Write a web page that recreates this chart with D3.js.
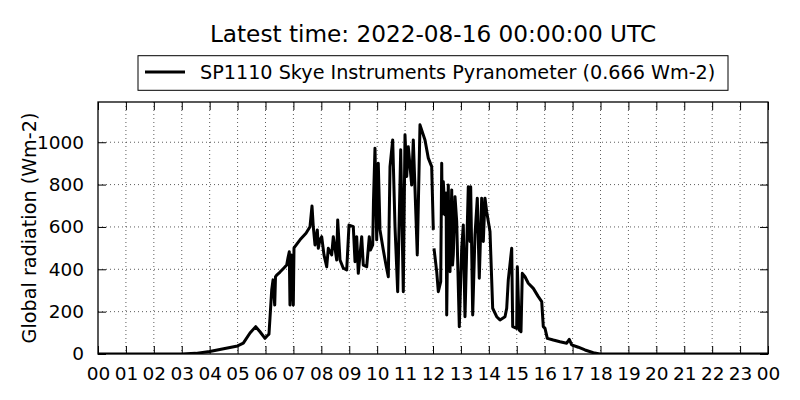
<!DOCTYPE html>
<html>
<head>
<meta charset="utf-8">
<script src="https://cdn.jsdelivr.net/npm/d3@7"></script>
<style>
  html, body { margin: 0; padding: 0; background: #fff; }
  svg { display: block; font-family: "DejaVu Sans", sans-serif; }
</style>
</head>
<body>
<svg id="chart" width="800" height="400"></svg>
<script>
// ---- data (hour of day, global radiation Wm-2) ----
const titleText = "Latest time: 2022-08-16 00:00:00 UTC";
const seriesName = "SP1110 Skye Instruments Pyranometer (0.666 Wm-2)";
const yLabel = "Global radiation (Wm-2)";
const xTickValues = d3.range(0, 25);
const xTickLabels = xTickValues.map(h => String(h % 24).padStart(2, "0"));
const yTickValues = [0, 200, 400, 600, 800, 1000];
const yMax = 1190;

const hours = [
  0, 1, 2, 3.0, 3.5, 4.0, 4.5, 5.0, 5.205, 5.445, 5.649, 5.803, 5.982, 6.054, 6.125,
  6.222, 6.27, 6.33, 6.358, 6.401, 6.52, 6.66, 6.759, 6.806, 6.852, 6.877, 6.931, 6.996,
  7.021, 7.128, 7.236, 7.451, 7.594, 7.666, 7.712, 7.773, 7.81, 7.856, 7.892, 7.95,
  8.013, 8.095, 8.192, 8.25, 8.371, 8.429, 8.55, 8.586, 8.669, 8.787, 8.909, 8.991,
  9.145, 9.206, 9.267, 9.324, 9.446, 9.503, 9.625, 9.718, 9.761, 9.84, 9.869, 9.922,
  9.983, 10.04, 10.101, 10.22, 10.316, 10.399, 10.46, 10.556, 10.639, 10.735, 10.843,
  10.936, 10.997, 11.058, 11.115, 11.237, 11.294, 11.437, 11.534, 11.713, 11.832,
  11.953, 12.011, 12.02, 12.036, 12.133, 12.19, 12.276, 12.312, 12.33, 12.369, 12.43,
  12.47, 12.491, 12.548, 12.58, 12.609, 12.67, 12.7, 12.727, 12.788, 12.849, 12.942,
  13.028, 13.085, 13.146, 13.264, 13.325, 13.35, 13.422, 13.504, 13.587, 13.658,
  13.744, 13.802, 13.863, 13.923, 14.042, 14.138, 14.281, 14.4, 14.579, 14.64, 14.697,
  14.819, 14.855, 14.998, 15.02, 15.091, 15.152, 15.199, 15.295, 15.414, 15.593,
  15.772, 15.894, 15.951, 16.012, 16.095, 16.309, 16.549, 16.789, 16.882, 16.968,
  17.205, 17.445, 17.742, 17.98, 19, 20, 21, 22, 23, 24
];
const radiation = [
  0, 0, 0, 0, 3, 12, 25, 38, 51, 99, 129, 105, 74, 85, 94,
  302, 350, 231, 364, 373, 387, 406, 420, 454, 483, 231, 468, 231,
  501, 520, 539, 570, 601, 699, 601, 515, 548, 586, 499, 540,
  554, 468, 412, 499, 468, 554, 444, 633, 444, 405, 397, 609,
  601, 436, 554, 381, 554, 420, 412, 554, 491, 515, 728, 972,
  539, 901, 586, 491, 420, 365, 885, 1011, 601, 294, 964,
  294, 1035, 838, 979, 798, 1011, 468, 1082, 1011, 925,
  885, 586, null, 499, 389, 294, 342, 901, 660, 814, 657,
  760, 184, 798, 400, 389, 775, 420, 468, 743, 625, 129,
  499, 609, 176, 790, 531, 790, 184, 562, 736, 358,
  736, 531, 736, 672, 578, 216, 176, 161, 176, 216, 350,
  499, 129, 121, 412, 113, 105, 381, 365, 334, 310,
  271, 247, 129, 121, 74, 66, 58, 51, 69, 43,
  32, 19, 6, 0, 0, 0, 0, 0, 0, 0
];

// ---- layout ----
const svg = d3.select("#chart");
const W = 800, H = 400;
const plot = { left: 98, right: 768, top: 102, bottom: 354 };

const x = d3.scaleLinear().domain([0, 24]).range([plot.left, plot.right]);
const y = d3.scaleLinear().domain([0, yMax]).range([plot.bottom, plot.top]);

svg.append("rect").attr("width", W).attr("height", H).attr("fill", "#fff");

// grid
const grid = svg.append("g").attr("stroke", "#000").attr("stroke-width", 0.8)
  .attr("stroke-dasharray", "1,3").attr("opacity", 0.8);
grid.selectAll("line.vx").data(xTickValues.slice(1, -1)).join("line")
  .attr("x1", d => x(d)).attr("x2", d => x(d))
  .attr("y1", plot.top).attr("y2", plot.bottom);
grid.selectAll("line.hy").data(yTickValues.slice(1)).join("line")
  .attr("x1", plot.left).attr("x2", plot.right)
  .attr("y1", d => y(d)).attr("y2", d => y(d));

// clip
svg.append("clipPath").attr("id", "clip").append("rect")
  .attr("x", plot.left).attr("y", plot.top)
  .attr("width", plot.right - plot.left).attr("height", plot.bottom - plot.top);

const data = hours.map((h, i) => ({ h, v: radiation[i] }));
const line = d3.line().defined(d => d.v !== null).x(d => x(d.h)).y(d => y(d.v));
svg.append("path").datum(data)
  .attr("clip-path", "url(#clip)")
  .attr("fill", "none").attr("stroke", "#000").attr("stroke-width", 3)
  .attr("stroke-linejoin", "round").attr("stroke-linecap", "butt")
  .attr("d", line);

// axes (inward ticks, classic style)
const tickLen = 8;
const axB = svg.append("g").attr("transform", `translate(0,${plot.bottom})`)
  .call(d3.axisBottom(x).tickValues(xTickValues).tickFormat((d, i) => xTickLabels[i])
    .tickSizeInner(-tickLen).tickSizeOuter(0).tickPadding(tickLen + 5));
const axT = svg.append("g").attr("transform", `translate(0,${plot.top})`)
  .call(d3.axisTop(x).tickValues(xTickValues).tickFormat("").tickSizeInner(-tickLen).tickSizeOuter(0));
const axL = svg.append("g").attr("transform", `translate(${plot.left},0)`)
  .call(d3.axisLeft(y).tickValues(yTickValues).tickFormat(d3.format("d"))
    .tickSizeInner(-tickLen).tickSizeOuter(0).tickPadding(tickLen + 6));
const axR = svg.append("g").attr("transform", `translate(${plot.right},0)`)
  .call(d3.axisRight(y).tickValues(yTickValues).tickFormat("").tickSizeInner(-tickLen).tickSizeOuter(0));

[axB, axT, axL, axR].forEach(a => {
  a.select(".domain").remove();
  a.selectAll(".tick line").attr("stroke", "#000").attr("stroke-width", 1);
  a.selectAll("text").attr("fill", "#000").style("font-size", "18.5px")
    .style("font-family", '"DejaVu Sans", sans-serif');
});
axB.selectAll("text").attr("dy", "0.71em");

// frame
svg.append("rect").attr("x", plot.left).attr("y", plot.top)
  .attr("width", plot.right - plot.left).attr("height", plot.bottom - plot.top)
  .attr("fill", "none").attr("stroke", "#000").attr("stroke-width", 1.3);

// y label
svg.append("text")
  .attr("transform", `translate(35.5,${(plot.top + plot.bottom) / 2}) rotate(-90)`)
  .attr("text-anchor", "middle").style("font-size", "19.2px").attr("fill", "#000")
  .text(yLabel);

// title
svg.append("text").attr("x", (plot.left + plot.right) / 2).attr("y", 42)
  .attr("text-anchor", "middle").style("font-size", "23.2px").attr("fill", "#000")
  .text(titleText);

// legend
const lg = svg.append("g");
lg.append("rect").attr("x", 138).attr("y", 55.7).attr("width", 590).attr("height", 34.6)
  .attr("fill", "#fff").attr("stroke", "#000").attr("stroke-width", 1);
lg.append("line").attr("x1", 145).attr("x2", 185).attr("y1", 72).attr("y2", 72)
  .attr("stroke", "#000").attr("stroke-width", 3);
lg.append("text").attr("x", 200).attr("y", 78.5).style("font-size", "19.2px").attr("fill", "#000")
  .text(seriesName);
</script>
</body>
</html>
